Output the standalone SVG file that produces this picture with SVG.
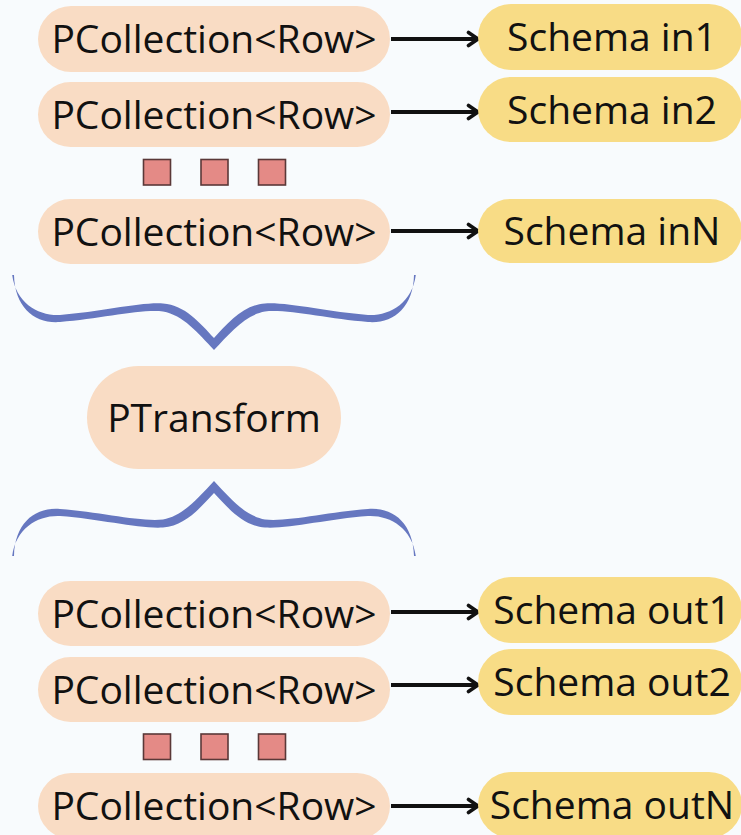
<svg xmlns="http://www.w3.org/2000/svg" width="741" height="835" viewBox="0 0 741 835">
  <style>
    .bg { fill: #f8fbfd; }
    .coll { fill: #f9dcc4; }
    .schema { fill: #f8dc86; }
    .label { font-family: "Open Sans", "Noto Sans", sans-serif; font-size: 39px; fill: #111111; text-anchor: middle; }
    .dot { fill: #e48a86; stroke: #5a3838; stroke-width: 1.6; }
    .link { stroke: #111111; stroke-width: 3.8; fill: none; }
    .brace { fill: #6677c0; }
  </style>
  <defs>
    <marker id="head" markerUnits="userSpaceOnUse" markerWidth="16" markerHeight="18" refX="12" refY="9" orient="auto">
      <path d="M2.5,2.5 L12,9 L2.5,15.5" fill="none" stroke="#111111" stroke-width="3.6" stroke-linecap="round" stroke-linejoin="round"/>
    </marker>
    <!-- left half of a curly brace, drawn as a tapered filled shape -->
    <path id="halfBrace" d="M14,275 C14.8,308 35,324 60,322 C100,319 140,309 163,311.5 C183,315 198,333 214,350 L214,338 C200,323 185,305 163,303.5 C140,302 100,312 60,315 C38,316 16,303 12.2,275 Z"/>
  </defs>

  <rect class="bg" x="0" y="0" width="741" height="835"/>

  <!-- connectors -->
  <g id="connectors">
    <line class="link" x1="391" y1="39" x2="478" y2="39" marker-end="url(#head)"/>
    <line class="link" x1="391" y1="112" x2="478" y2="112" marker-end="url(#head)"/>
    <line class="link" x1="391" y1="231" x2="478" y2="231" marker-end="url(#head)"/>
    <line class="link" x1="391" y1="612" x2="478" y2="612" marker-end="url(#head)"/>
    <line class="link" x1="391" y1="685" x2="478" y2="685" marker-end="url(#head)"/>
    <line class="link" x1="391" y1="806" x2="478" y2="806" marker-end="url(#head)"/>
  </g>

  <!-- input collections -->
  <g id="in1">
    <rect class="coll" x="38" y="6" width="352" height="66" rx="33"/>
    <text class="label" x="214" y="53">PCollection&lt;Row&gt;</text>
  </g>
  <g id="in2">
    <rect class="coll" x="38" y="82" width="352" height="65" rx="32.5"/>
    <text class="label" x="214" y="128.5">PCollection&lt;Row&gt;</text>
  </g>
  <g id="inDots">
    <rect class="dot" x="143.5" y="159.5" width="27" height="25.5"/>
    <rect class="dot" x="201" y="159.5" width="27" height="25.5"/>
    <rect class="dot" x="258.5" y="159.5" width="27" height="25.5"/>
  </g>
  <g id="inN">
    <rect class="coll" x="38" y="199" width="352" height="65" rx="32.5"/>
    <text class="label" x="214" y="245.5">PCollection&lt;Row&gt;</text>
  </g>

  <!-- input schemas -->
  <g id="schemaIn1">
    <rect class="schema" x="478" y="4" width="264" height="66" rx="33"/>
    <text class="label" x="612" y="51">Schema in1</text>
  </g>
  <g id="schemaIn2">
    <rect class="schema" x="478" y="77" width="264" height="65" rx="32.5"/>
    <text class="label" x="612" y="123.5">Schema in2</text>
  </g>
  <g id="schemaInN">
    <rect class="schema" x="478" y="199" width="264" height="64" rx="32"/>
    <text class="label" x="612" y="245">Schema inN</text>
  </g>

  <!-- braces around the transform -->
  <g id="braceTop">
    <use href="#halfBrace" class="brace"/>
    <use href="#halfBrace" class="brace" transform="translate(428,0) scale(-1,1)"/>
  </g>
  <g id="braceBottom" transform="translate(0,831) scale(1,-1)">
    <use href="#halfBrace" class="brace"/>
    <use href="#halfBrace" class="brace" transform="translate(428,0) scale(-1,1)"/>
  </g>

  <g id="transform">
    <rect class="coll" x="87" y="366" width="254" height="103" rx="51.5"/>
    <text class="label" x="214" y="431.5">PTransform</text>
  </g>

  <!-- output collections -->
  <g id="out1">
    <rect class="coll" x="38" y="581" width="352" height="65" rx="32.5"/>
    <text class="label" x="214" y="627.5">PCollection&lt;Row&gt;</text>
  </g>
  <g id="out2">
    <rect class="coll" x="38" y="657" width="352" height="65" rx="32.5"/>
    <text class="label" x="214" y="703.5">PCollection&lt;Row&gt;</text>
  </g>
  <g id="outDots">
    <rect class="dot" x="143.5" y="734" width="27" height="25.5"/>
    <rect class="dot" x="201" y="734" width="27" height="25.5"/>
    <rect class="dot" x="258.5" y="734" width="27" height="25.5"/>
  </g>
  <g id="outN">
    <rect class="coll" x="38" y="773" width="352" height="66" rx="33"/>
    <text class="label" x="214" y="819.5">PCollection&lt;Row&gt;</text>
  </g>

  <!-- output schemas -->
  <g id="schemaOut1">
    <rect class="schema" x="478" y="577" width="264" height="66" rx="33"/>
    <text class="label" x="612" y="624">Schema out1</text>
  </g>
  <g id="schemaOut2">
    <rect class="schema" x="478" y="649" width="264" height="66" rx="33"/>
    <text class="label" x="612" y="696">Schema out2</text>
  </g>
  <g id="schemaOutN">
    <rect class="schema" x="478" y="772" width="264" height="66" rx="33"/>
    <text class="label" x="612" y="819">Schema outN</text>
  </g>
</svg>
